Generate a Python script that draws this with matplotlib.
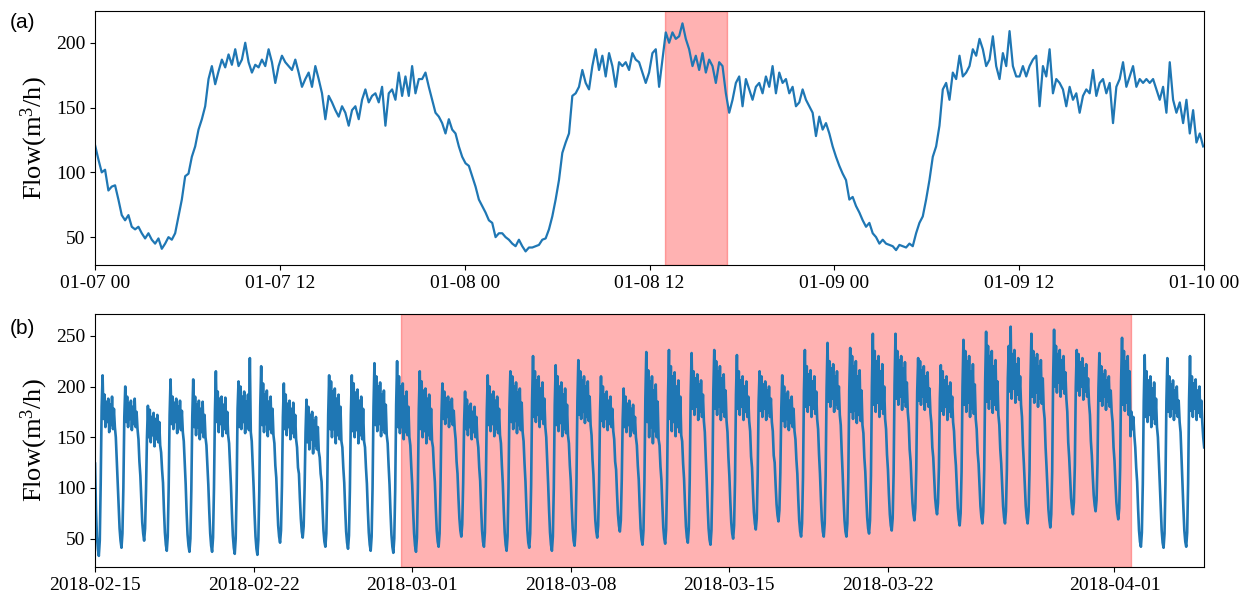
import numpy as np
import pandas as pd
import matplotlib
matplotlib.use('Agg')
import matplotlib.pyplot as plt
import matplotlib.dates as mdates

plt.rcParams['font.family'] = ['Liberation Serif', 'DejaVu Serif']
plt.rcParams['mathtext.default'] = 'regular'

# (a) flow over three days, one reading every 13 minutes from 01-07 00:00
flow_a = [121, 110, 100, 102, 86, 89, 90, 79, 67, 63,
          67, 58, 56, 58, 53, 49, 53, 48, 45, 49,
          41, 45, 50, 48, 53, 66, 79, 97, 99, 112,
          120, 133, 141, 151, 172, 182, 168, 178, 187, 181,
          191, 183, 195, 182, 187, 200, 185, 177, 183, 181,
          187, 182, 195, 185, 169, 182, 190, 185, 182, 179,
          187, 177, 166, 172, 177, 166, 182, 172, 161, 141,
          159, 154, 148, 143, 151, 146, 136, 148, 151, 141,
          156, 164, 154, 159, 161, 154, 166, 136, 161, 164,
          156,
          177, 159, 174, 159, 182, 161, 172, 172, 177, 166,
          156, 146, 143, 138, 130, 141, 133, 130, 120, 112,
          107, 105, 97, 89, 79, 74, 69, 63, 61, 50,
          53, 53, 50, 48, 45, 43, 48, 43, 39, 42,
          42, 43, 44, 48, 49, 56, 66, 79, 94, 115,
          123, 130, 159, 161, 166, 179, 169, 164, 182, 195,
          179, 190, 174, 192, 182, 166, 185, 182, 185, 179,
          192, 187, 185, 177, 169, 177, 192, 195, 166, 187,
          208, 200, 208, 203, 205, 215, 203, 195, 182, 190,
          179, 192, 177, 187, 182, 169, 185, 182, 161, 146,
          156, 169, 174, 151, 172, 164, 156, 166, 169, 161,
          174, 166, 182, 161, 177, 169, 172, 161, 166, 151,
          154, 164, 156, 151, 146, 128, 143, 133, 138, 130,
          120, 112, 105, 99, 94, 79, 81, 74, 69, 63,
          58, 61, 53, 50, 45, 48, 45, 44, 43, 40,
          44, 43, 42, 45, 43, 53, 61, 66, 79, 94,
          112, 120, 136, 164, 169, 156, 177, 172, 190, 174,
          177, 182, 195, 190, 203, 195, 182, 187, 205, 182,
          172, 192, 182, 209, 182, 174, 174, 182, 174, 182,
          187, 190, 151, 182, 174, 195, 161, 172, 169, 164,
          151, 166, 156, 161, 146, 159, 164, 161, 179, 159,
          169, 172, 161, 169, 138, 166, 172, 185, 166, 174,
          182, 166, 172, 169, 172, 169, 172, 164, 156, 166,
          146, 185, 156, 146, 154, 138, 156, 130, 148, 123,
          130, 120]
span_a = ('2018-01-08 13:00', '2018-01-08 17:00')

# (b) hourly flow, one row per day from 2018-02-15
flow_b_days = [
    [124, 78, 52, 40, 33, 48, 105, 180, 211, 168, 192, 160, 185, 165, 188, 155, 182, 162, 190, 158, 178, 160, 150, 128],
    [108, 83, 60, 48, 41, 55, 100, 170, 200, 165, 190, 160, 183, 168, 186, 157, 180, 163, 188, 160, 175, 158, 148, 126],
    [112, 88, 66, 55, 48, 60, 98, 150, 181, 150, 177, 145, 170, 152, 174, 141, 168, 148, 172, 145, 165, 142, 135, 118],
    [105, 78, 56, 44, 38, 52, 100, 172, 207, 163, 190, 158, 184, 165, 188, 154, 180, 160, 186, 157, 176, 155, 146, 124],
    [104, 76, 54, 43, 37, 50, 98, 170, 207, 160, 190, 152, 182, 160, 186, 148, 178, 155, 185, 150, 172, 150, 142, 122],
    [103, 77, 55, 43, 37, 51, 100, 175, 215, 165, 195, 155, 188, 163, 190, 151, 182, 158, 189, 154, 175, 152, 144, 123],
    [102, 75, 53, 41, 35, 50, 98, 178, 205, 160, 200, 158, 190, 165, 195, 154, 185, 160, 192, 157, 228, 155, 146, 124],
    [101, 74, 52, 40, 34, 49, 97, 180, 220, 162, 203, 155, 192, 163, 196, 151, 185, 158, 190, 154, 178, 152, 144, 122],
    [110, 85, 63, 52, 46, 58, 102, 170, 203, 158, 192, 152, 183, 160, 186, 148, 178, 154, 184, 150, 172, 148, 140, 120],
    [114, 90, 70, 57, 51, 62, 100, 155, 187, 145, 180, 138, 172, 148, 175, 134, 166, 142, 170, 138, 160, 136, 130, 114],
    [106, 80, 58, 47, 42, 55, 100, 172, 211, 158, 205, 150, 195, 158, 198, 144, 188, 152, 192, 148, 180, 146, 140, 120],
    [105, 79, 57, 46, 40, 53, 99, 172, 211, 156, 203, 150, 194, 157, 197, 144, 186, 152, 190, 148, 178, 146, 140, 120],
    [104, 78, 56, 44, 38, 52, 100, 180, 223, 162, 210, 156, 200, 163, 204, 151, 192, 158, 196, 154, 182, 152, 144, 122],
    [103, 76, 54, 42, 36, 50, 99, 182, 225, 160, 210, 154, 200, 160, 203, 148, 190, 155, 195, 152, 180, 150, 142, 121],
    [103, 77, 55, 43, 37, 51, 100, 178, 215, 158, 205, 150, 196, 156, 198, 144, 188, 152, 192, 148, 178, 146, 140, 120],
    [106, 80, 58, 47, 42, 55, 102, 172, 203, 168, 195, 163, 188, 170, 190, 160, 184, 166, 188, 162, 176, 158, 148, 126],
    [114, 90, 70, 58, 52, 64, 105, 165, 195, 158, 187, 152, 180, 160, 183, 148, 175, 155, 180, 150, 170, 148, 140, 120],
    [107, 80, 58, 47, 42, 56, 102, 175, 211, 162, 200, 156, 192, 163, 195, 151, 186, 158, 190, 154, 178, 152, 144, 122],
    [104, 78, 56, 44, 38, 52, 100, 180, 215, 165, 210, 158, 200, 166, 204, 154, 194, 162, 198, 157, 184, 155, 146, 124],
    [106, 80, 58, 46, 41, 55, 103, 185, 230, 170, 215, 165, 206, 172, 210, 160, 198, 168, 204, 163, 188, 160, 150, 127],
    [104, 78, 56, 44, 38, 52, 100, 182, 221, 162, 210, 156, 200, 164, 204, 151, 192, 158, 198, 154, 182, 152, 144, 122],
    [107, 81, 60, 48, 43, 57, 104, 185, 226, 172, 215, 168, 206, 175, 210, 164, 200, 170, 205, 166, 190, 162, 152, 128],
    [113, 89, 68, 57, 51, 63, 106, 175, 210, 166, 200, 160, 192, 168, 195, 157, 186, 163, 190, 160, 178, 156, 148, 126],
    [118, 94, 74, 63, 57, 68, 108, 168, 198, 160, 190, 155, 183, 162, 186, 151, 178, 157, 182, 154, 170, 150, 142, 122],
    [108, 82, 60, 49, 44, 58, 105, 188, 234, 165, 216, 150, 205, 160, 210, 144, 196, 156, 202, 150, 185, 148, 142, 121],
    [108, 83, 61, 50, 45, 59, 106, 190, 236, 168, 220, 156, 210, 165, 214, 151, 200, 160, 206, 155, 190, 152, 146, 124],
    [109, 84, 62, 51, 46, 60, 108, 192, 233, 178, 215, 172, 208, 180, 212, 167, 202, 175, 206, 170, 192, 166, 155, 130],
    [108, 82, 60, 49, 44, 58, 106, 195, 236, 178, 225, 172, 215, 180, 220, 167, 208, 175, 212, 170, 196, 166, 155, 130],
    [112, 87, 66, 55, 50, 63, 108, 192, 231, 178, 215, 172, 206, 180, 210, 167, 200, 175, 205, 170, 190, 166, 156, 131],
    [120, 96, 76, 65, 59, 70, 112, 185, 215, 176, 210, 170, 202, 178, 205, 167, 196, 174, 200, 170, 188, 165, 156, 132],
    [125, 103, 84, 73, 67, 78, 115, 178, 211, 166, 200, 160, 192, 168, 195, 157, 186, 164, 190, 160, 178, 156, 148, 128],
    [114, 89, 68, 57, 52, 65, 110, 195, 236, 180, 220, 175, 212, 182, 216, 170, 205, 178, 210, 173, 195, 168, 158, 133],
    [114, 89, 68, 57, 52, 65, 112, 198, 243, 185, 225, 180, 218, 188, 222, 175, 210, 182, 215, 178, 200, 172, 162, 136],
    [114, 89, 68, 57, 52, 65, 110, 196, 238, 175, 230, 168, 220, 176, 225, 164, 210, 172, 216, 166, 196, 162, 154, 130],
    [116, 92, 71, 60, 55, 68, 112, 200, 252, 182, 235, 175, 225, 184, 230, 170, 215, 178, 222, 173, 200, 168, 158, 133],
    [118, 94, 74, 63, 58, 70, 114, 202, 252, 188, 235, 182, 226, 190, 230, 177, 218, 185, 224, 180, 204, 175, 164, 138],
    [126, 104, 85, 74, 68, 80, 118, 195, 228, 186, 225, 182, 216, 190, 220, 177, 210, 185, 214, 180, 198, 174, 164, 140],
    [130, 109, 90, 80, 74, 85, 120, 188, 221, 176, 215, 172, 206, 180, 210, 167, 200, 175, 204, 170, 190, 165, 156, 135],
    [122, 100, 80, 69, 63, 75, 116, 200, 246, 182, 235, 175, 225, 184, 230, 170, 215, 178, 222, 173, 202, 168, 158, 135],
    [124, 102, 82, 71, 65, 77, 118, 205, 254, 185, 240, 178, 230, 188, 235, 174, 220, 182, 226, 177, 205, 172, 162, 138],
    [124, 102, 82, 71, 65, 77, 118, 208, 240, 195, 259, 188, 232, 198, 236, 184, 222, 192, 228, 187, 210, 182, 170, 142],
    [124, 102, 82, 71, 65, 77, 118, 205, 252, 190, 235, 184, 228, 194, 232, 180, 220, 188, 226, 183, 208, 178, 168, 140],
    [121, 99, 79, 68, 61, 74, 116, 208, 256, 200, 240, 194, 232, 204, 236, 190, 226, 198, 230, 193, 214, 188, 175, 145],
    [130, 109, 90, 80, 74, 86, 122, 200, 236, 196, 232, 191, 224, 200, 228, 187, 218, 195, 222, 190, 208, 184, 172, 146],
    [132, 111, 93, 83, 77, 88, 124, 198, 233, 186, 220, 181, 212, 190, 216, 177, 206, 185, 210, 180, 196, 175, 165, 140],
    [127, 105, 86, 75, 69, 80, 120, 205, 248, 182, 235, 176, 225, 184, 230, 172, 215, 151, 175, 158, 170, 152, 140, 120],
    [106, 80, 58, 47, 42, 56, 104, 185, 231, 170, 215, 165, 206, 172, 210, 160, 198, 168, 204, 163, 188, 160, 150, 127],
    [106, 80, 58, 46, 41, 55, 104, 185, 228, 175, 210, 170, 202, 178, 206, 167, 196, 174, 200, 170, 186, 165, 155, 130],
    [106, 80, 58, 47, 42, 56, 104, 186, 230, 176, 210, 170, 203, 178, 207, 167, 196, 174, 200, 170, 186, 165, 150, 140],
]
span_b = ('2018-02-28 12:00', '2018-04-01 17:00')

flow_b = np.concatenate(flow_b_days)
t_a = pd.date_range('2018-01-07 00:00', periods=len(flow_a), freq='13min')
t_b = pd.date_range('2018-02-15 00:00', periods=len(flow_b), freq='h')

fig = plt.figure(figsize=(12.49, 5.99), dpi=100)
ax1 = fig.add_axes([0.0761, 0.5576, 0.888, 0.4240])
ax2 = fig.add_axes([0.0761, 0.0534, 0.888, 0.4224])

ax1.plot(t_a, flow_a, color='#1f77b4', lw=1.6)
ax1.axvspan(pd.Timestamp(span_a[0]), pd.Timestamp(span_a[1]), color='red', alpha=0.3)
ax1.set_xlim(pd.Timestamp('2018-01-07'), pd.Timestamp('2018-01-10'))
ax1.set_ylim(28.5, 224.5)
ax1.set_yticks([50, 100, 150, 200])
ax1.xaxis.set_major_locator(mdates.HourLocator(byhour=[0, 12]))
ax1.xaxis.set_major_formatter(mdates.DateFormatter('%m-%d %H'))

ax2.plot(t_b, flow_b, color='#1f77b4', lw=1.9)
ax2.axvspan(pd.Timestamp(span_b[0]), pd.Timestamp(span_b[1]), color='red', alpha=0.3)
ax2.set_xlim(t_b[0], t_b[-1])
ax2.set_ylim(22, 271.5)
ax2.set_yticks([50, 100, 150, 200, 250])
ax2.xaxis.set_major_locator(mdates.DayLocator(bymonthday=[1, 8, 15, 22]))
ax2.xaxis.set_major_formatter(mdates.DateFormatter('%Y-%m-%d'))

for ax in (ax1, ax2):
    ax.set_ylabel('Flow(m$^3$/h)', fontsize=19)
    ax.tick_params(labelsize=14)

fig.text(0.008, 0.962, '(a)', fontsize=15, family='Liberation Sans', va='center')
fig.text(0.008, 0.452, '(b)', fontsize=15, family='Liberation Sans', va='center')

fig.savefig('out.png', dpi=100)
